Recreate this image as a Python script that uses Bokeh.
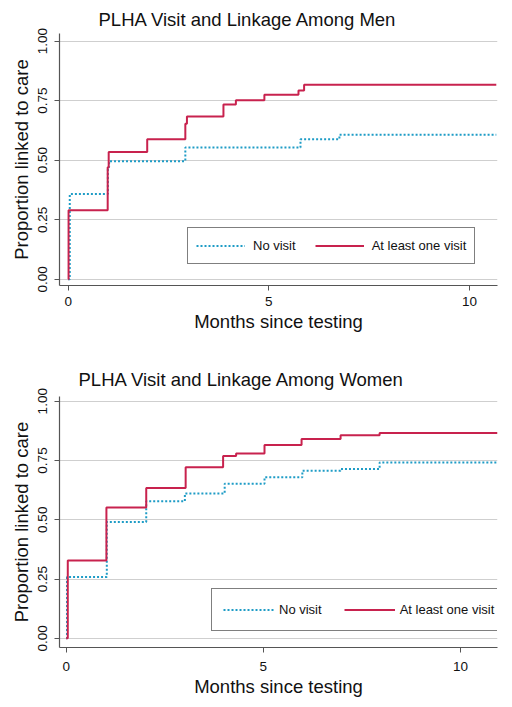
from bokeh.plotting import figure
from bokeh.layouts import column
from bokeh.models import Legend, LegendItem, FixedTicker, Range1d, Title
from bokeh.embed import file_html
from bokeh.resources import INLINE

# ---- data ----
x_ticks = [0, 5, 10]
y_ticks = [0, 0.25, 0.5, 0.75, 1.0]
y_tick_labels = ["0.00", "0.25", "0.50", "0.75", "1.00"]
series_labels = ["No visit", "At least one visit"]

men_novisit_t = [0, 0.04, 0.99, 1.02, 2.92, 5.79, 6.76, 10.67]
men_novisit_p = [0, 0.358, 0.47, 0.496, 0.553, 0.588, 0.607, 0.607]
men_visit_t = [0, 0.01, 0.985, 1.01, 1.97, 2.92, 2.96, 3.87, 4.18, 4.89, 5.74, 5.88, 10.67]
men_visit_p = [0, 0.29, 0.47, 0.534, 0.588, 0.653, 0.684, 0.734, 0.752, 0.775, 0.793, 0.817, 0.817]

women_novisit_t = [0, 0.02, 1.03, 2.03, 3.01, 4.02, 5.03, 5.99, 6.96, 7.95, 10.94]
women_novisit_p = [0, 0.258, 0.491, 0.578, 0.611, 0.652, 0.679, 0.707, 0.714, 0.742, 0.742]
women_visit_t = [0, 0.04, 1.02, 2.03, 3.03, 3.98, 4.31, 5.03, 5.97, 6.96, 7.95, 10.94]
women_visit_p = [0, 0.328, 0.552, 0.634, 0.721, 0.769, 0.780, 0.815, 0.841, 0.856, 0.866, 0.866]

RED = "#C8224E"
BLUE = "#1E9CC6"
FONT = "Liberation Sans"


def panel(title, t_nv, p_nv, t_v, p_v, x_range, y_range, width, height,
          borders, title_offset, title_standoff, x_standoffs, legend_loc, legend_cfg):
    p = figure(width=width, height=height, output_backend="svg",
               toolbar_location=None, x_range=Range1d(*x_range),
               y_range=Range1d(*y_range), title=None,
               min_border_left=borders[0], min_border_right=borders[1],
               min_border_top=borders[2], min_border_bottom=borders[3])
    p.add_layout(Title(text=title, align="left", offset=title_offset,
                       text_font=FONT, text_font_size="18.5px",
                       text_font_style="normal", text_color="#111111",
                       standoff=title_standoff), "above")
    p.outline_line_color = None
    p.xgrid.grid_line_color = None
    p.ygrid.grid_line_color = "#cfcfcf"
    p.ygrid.grid_line_width = 1
    p.ygrid.ticker = FixedTicker(ticks=y_ticks)

    for ax in (p.xaxis, p.yaxis):
        ax.axis_line_color = "#555555"
        ax.axis_line_width = 1.2
        ax.major_tick_line_color = "#555555"
        ax.major_tick_out = 5
        ax.major_tick_in = 0
        ax.minor_tick_line_color = None
        ax.major_label_text_font = FONT
        ax.major_label_text_font_size = "13.5px"
        ax.major_label_text_color = "#111111"
        ax.axis_label_text_font = FONT
        ax.axis_label_text_font_size = "18.5px"
        ax.axis_label_text_font_style = "normal"
        ax.axis_label_text_color = "#111111"

    p.xaxis.ticker = FixedTicker(ticks=x_ticks)
    p.xaxis.axis_label = "Months since testing"
    p.xaxis.major_label_standoff = x_standoffs[0]
    p.xaxis.axis_label_standoff = x_standoffs[1]
    p.yaxis.ticker = FixedTicker(ticks=y_ticks)
    p.yaxis.major_label_overrides = {t: l for t, l in zip(y_ticks, y_tick_labels)}
    p.yaxis.major_label_orientation = "parallel"
    p.yaxis.axis_label = "Proportion linked to care"
    p.yaxis.major_label_standoff = 7
    p.yaxis.axis_label_standoff = 4

    r_nv = p.step(t_nv, p_nv, mode="after", line_color=BLUE, line_width=2,
                  line_dash="2 2")
    r_v = p.step(t_v, p_v, mode="after", line_color=RED, line_width=2)

    legend = Legend(items=[LegendItem(label=series_labels[0], renderers=[r_nv]),
                           LegendItem(label=series_labels[1], renderers=[r_v])],
                    orientation="horizontal", location=legend_loc,
                    border_line_color="black", border_line_width=1,
                    background_fill_color="white", background_fill_alpha=1,
                    label_text_font=FONT, label_text_font_size="13px",
                    label_text_color="#111111", margin=0,
                    glyph_width=legend_cfg["gw"], glyph_height=19,
                    label_height=19, padding=legend_cfg["pad"],
                    spacing=legend_cfg["sp"],
                    label_standoff=legend_cfg["so"])
    p.add_layout(legend)
    return p


p1 = panel("PLHA Visit and Linkage Among Men",
           men_novisit_t, men_novisit_p, men_visit_t, men_visit_p,
           (-0.216, 10.7), (-0.026, 1.032), 504, 358,
           (59, 6, 33, 73), 39, 7.5, (6, 2), (128, 21),
           {"gw": 49, "pad": 8, "sp": 19, "so": 8})
p2 = panel("PLHA Visit and Linkage Among Women",
           women_novisit_t, women_novisit_p, women_visit_t, women_visit_p,
           (-0.17, 10.94), (-0.039, 1.02), 504, 341,
           (59, 7, 38, 52), 19, 14, (9, 2), (152, 16),
           {"gw": 51, "pad": 11, "sp": 22, "so": 5})

layout = column(p1, p2, spacing=0)
open("out.html", "w").write(file_html(layout, INLINE))
